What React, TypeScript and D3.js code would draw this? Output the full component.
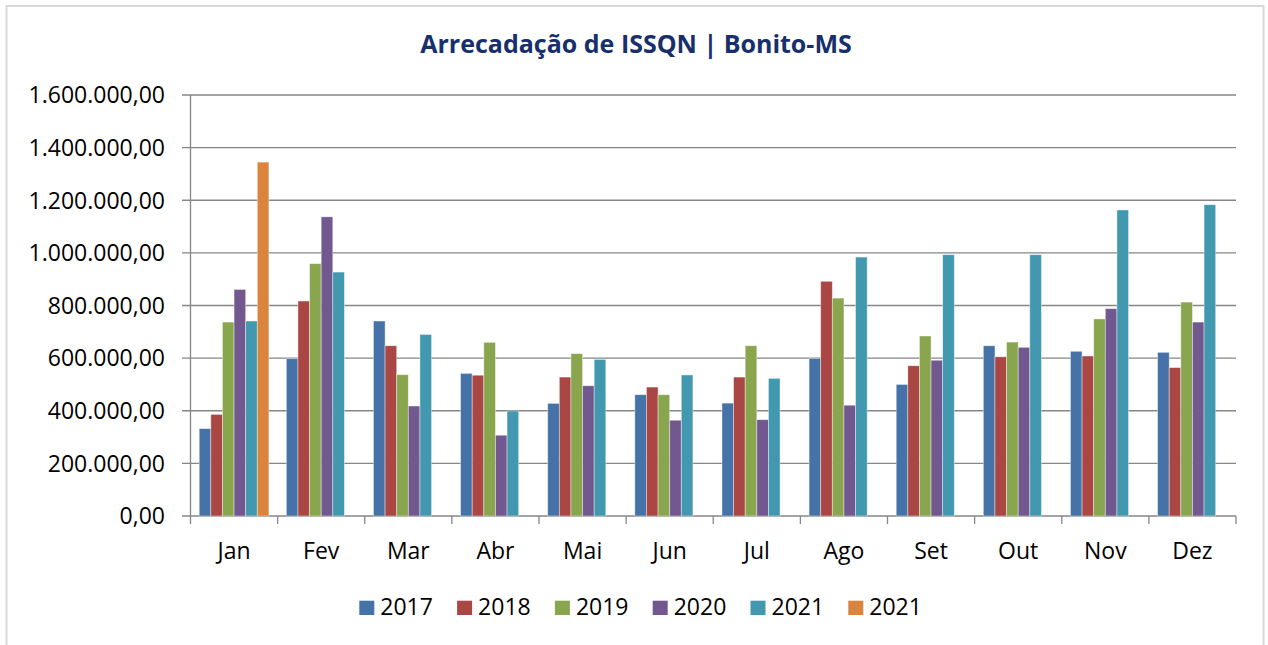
import React from "react";
import * as d3 from "d3";

const months = ["Jan", "Fev", "Mar", "Abr", "Mai", "Jun", "Jul", "Ago", "Set", "Out", "Nov", "Dez"];
const seriesNames = ["2017", "2018", "2019", "2020", "2021", "2021"];
const seriesColors = ["#4572A7", "#AA4643", "#89A54E", "#71588F", "#4198AF", "#DB843D"];
const v2017 = [332000, 598000, 741000, 542000, 428000, 461000, 429000, 599000, 500000, 647000, 626000, 622000];
const v2018 = [386000, 817000, 647000, 535000, 528000, 490000, 528000, 892000, 571000, 605000, 608000, 564000];
const v2019 = [737000, 959000, 537000, 660000, 617000, 461000, 647000, 828000, 684000, 661000, 749000, 813000];
const v2020 = [861000, 1137000, 418000, 307000, 495000, 364000, 366000, 421000, 592000, 641000, 788000, 737000];
const v2021 = [741000, 927000, 690000, 399000, 595000, 536000, 523000, 984000, 993000, 993000, 1163000, 1183000];
const v2021b: (number | null)[] = [1345000, null, null, null, null, null, null, null, null, null, null, null];
const seriesValues: (number | null)[][] = [v2017, v2018, v2019, v2020, v2021, v2021b];
const yTicks = [0, 200000, 400000, 600000, 800000, 1000000, 1200000, 1400000, 1600000];

const W = 1268;
const H = 645;
const left = 190.5;
const right = 1236;
const top = 95;
const bottom = 516;
const FONT = "'Open Sans', 'Noto Sans', sans-serif";
const AXIS = "#868686";

const fmt = (v: number) => {
  const s = d3.format(",.2f")(v);
  return s.replace(/,/g, "#").replace(".", ",").replace(/#/g, ".");
};

export default function App() {
  const x0 = d3.scaleBand<string>().domain(months).range([left, right]).padding(0);
  const bw = x0.bandwidth();
  const groupW = bw * 6 / 7.5;
  const idx = seriesNames.map((_, i) => String(i));
  const x1 = d3.scaleBand<string>().domain(idx).range([(bw - groupW) / 2, (bw + groupW) / 2]).padding(0);
  const y = d3.scaleLinear().domain([0, 1600000]).range([bottom, top]);

  return (
    <div style={{ position: "fixed", left: 0, top: 0, width: W, height: H, background: "#fff" }}>
      <svg width={W} height={H} style={{ display: "block" }}>
        <rect x={0} y={0} width={W} height={H} fill="#fff" />
        <rect x={6.5} y={6} width={1257} height={660} fill="none" stroke="#d9d9d9" strokeWidth={2} />
        <text x={636} y={53} textAnchor="middle" fontFamily={FONT} fontWeight={700} fontSize={25} fill="#17306B">
          Arrecadação de ISSQN | Bonito-MS
        </text>
        {yTicks.map((t) => (
          <g key={t}>
            <line x1={182} x2={right} y1={y(t)} y2={y(t)} stroke={AXIS} strokeWidth={1.3} />
            <text x={165} y={y(t)} dy="0.36em" textAnchor="end" fontFamily={FONT} fontSize={23} fill="#000">
              {fmt(t)}
            </text>
          </g>
        ))}
        <line x1={left} x2={left} y1={top} y2={bottom + 8} stroke={AXIS} strokeWidth={1.3} />
        {months.map((m) => (
          <line key={"t" + m} x1={x0(m)! + bw} x2={x0(m)! + bw} y1={bottom} y2={bottom + 8} stroke={AXIS} strokeWidth={1.3} />
        ))}
        {months.map((m, i) => (
          <g key={m} transform={`translate(${x0(m)},0)`}>
            {seriesValues.map((vals, s) => {
              const v = vals[i];
              if (v == null) return null;
              return (
                <rect
                  key={s}
                  x={x1(String(s))}
                  y={y(v)}
                  width={x1.bandwidth()}
                  height={bottom - y(v)}
                  fill={seriesColors[s]}
                  stroke="#ffffff"
                  strokeOpacity={0.5}
                  strokeWidth={0.8}
                />
              );
            })}
            <text x={bw / 2} y={559} textAnchor="middle" fontFamily={FONT} fontSize={23} fill="#000">
              {m}
            </text>
          </g>
        ))}
        {seriesNames.map((n, i) => (
          <g key={i} transform={`translate(${359.3 + i * 97.8},0)`}>
            <rect x={0} y={600.7} width={15} height={14.3} fill={seriesColors[i]} />
            <text x={21} y={615} fontFamily={FONT} fontSize={23} fill="#000">
              {n}
            </text>
          </g>
        ))}
      </svg>
    </div>
  );
}
